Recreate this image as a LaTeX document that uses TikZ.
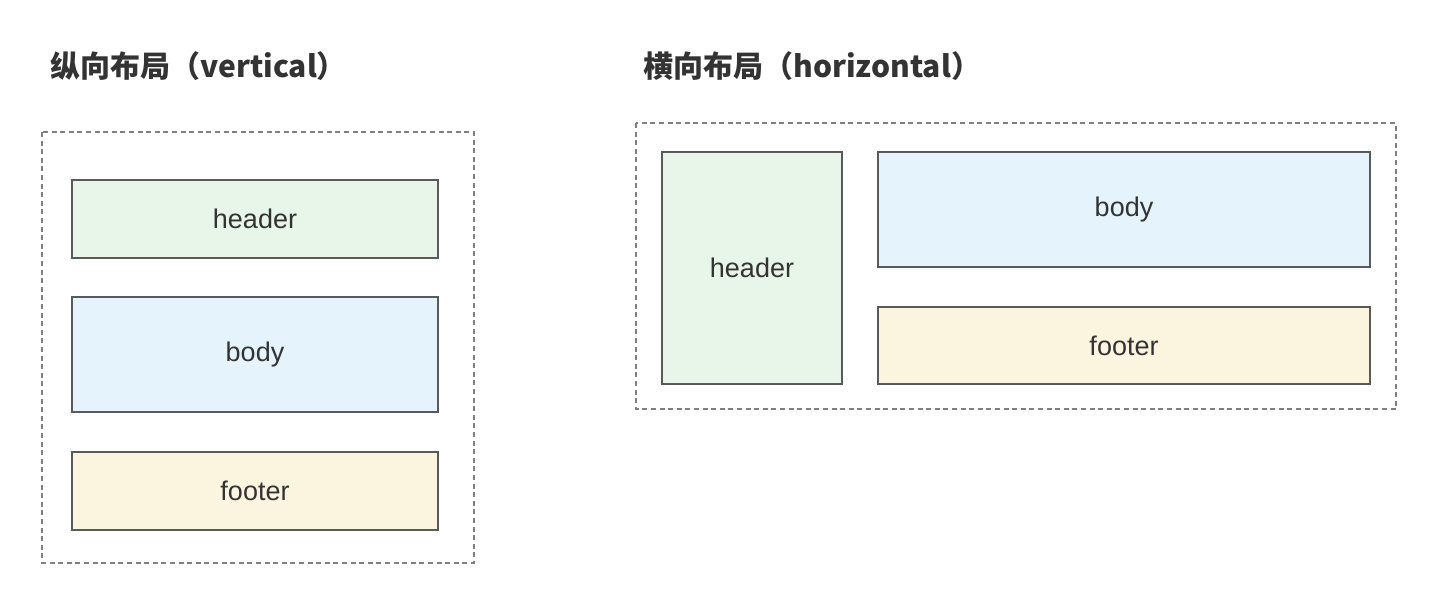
\documentclass[tikz,border=0pt]{standalone}
\usepackage{fontspec}
\setmainfont{Liberation Sans}
\newfontfamily\cjk{Noto Sans CJK SC}
\definecolor{edge}{HTML}{5A5A5A}
\definecolor{dash}{HTML}{808080}
\definecolor{txt}{HTML}{333333}
\definecolor{hdr}{HTML}{E8F5E9}
\definecolor{bdy}{HTML}{E4F3FC}
\definecolor{ftr}{HTML}{FBF5E0}
\begin{document}
\begin{tikzpicture}[x=0.5pt,y=-0.5pt,
  outer/.style={draw=dash,line width=0.6pt,dash pattern=on 2.5pt off 1.8pt},
  part/.style={draw=edge,line width=0.9pt,text=txt,font=\fontsize{13.5}{16}\selectfont},
  ttl/.style={anchor=base west,text=txt,font=\cjk\bfseries\fontsize{15}{18}\selectfont,inner sep=0pt}]
\useasboundingbox (0,0) rectangle (1444,614);
% left: vertical
\node[ttl] (t1) at (50,78) {纵向布局（vertical）};
\draw[outer] (42,132) rectangle (474,563);
\draw[part,fill=hdr] (72,180) rectangle (438,258) node[midway] (h1) {header};
\draw[part,fill=bdy] (72,297) rectangle (438,412) node[midway] (b1) {body};
\draw[part,fill=ftr] (72,452) rectangle (438,530) node[midway] (f1) {footer};
% right: horizontal
\node[ttl] (t2) at (643,78) {横向布局（horizontal）};
\draw[outer] (636,123) rectangle (1396,409);
\draw[part,fill=hdr] (662,152) rectangle (842,384) node[midway] (h2) {header};
\draw[part,fill=bdy] (878,152) rectangle (1370,267) node[midway] (b2) {body};
\draw[part,fill=ftr] (878,307) rectangle (1370,384) node[midway] (f2) {footer};
\end{tikzpicture}
\end{document}
